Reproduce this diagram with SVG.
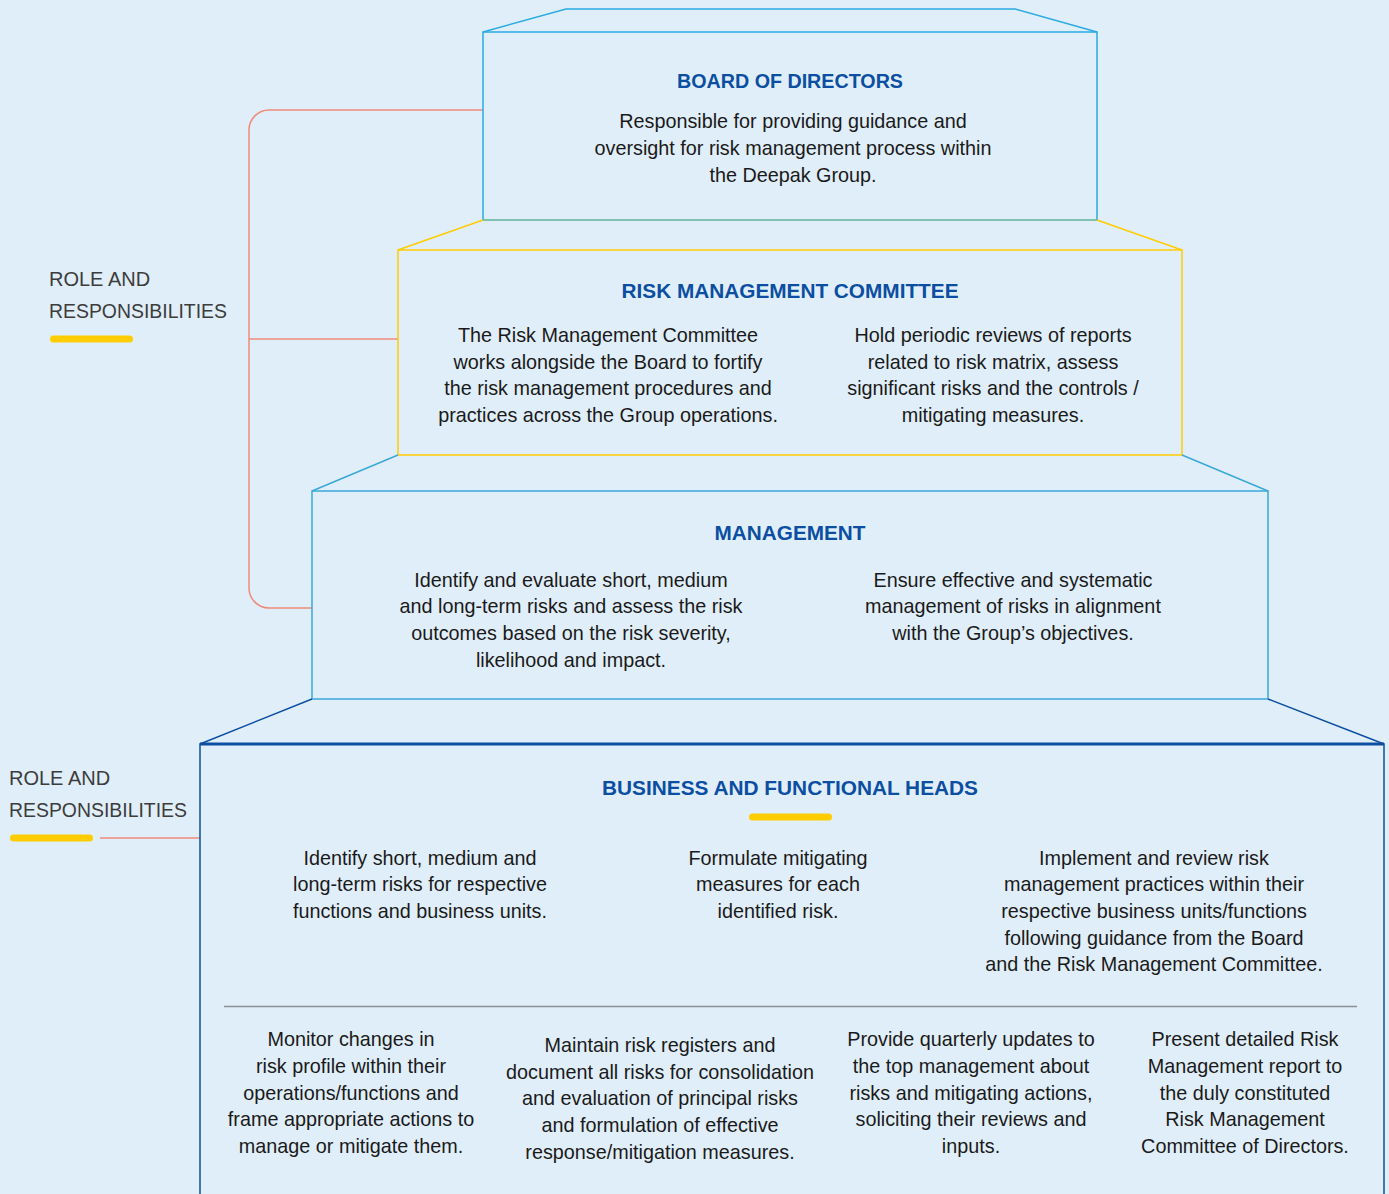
<svg xmlns="http://www.w3.org/2000/svg" width="1389" height="1194" viewBox="0 0 1389 1194">
<style>
.body{font-family:"Liberation Sans",Arial,sans-serif;font-size:19.8px;fill:#1a1a1a;text-anchor:middle}
.title{font-family:"Liberation Sans",Arial,sans-serif;font-size:20px;font-weight:bold;fill:#0B4EA2;text-anchor:middle}
.label{font-family:"Liberation Sans",Arial,sans-serif;font-size:20px;fill:#3c3c3c}
.bar{fill:#FFCC00}
.conn{fill:none;stroke:#F08A78;stroke-width:1.5}
</style>
<rect width="1389" height="1194" fill="#E0EEF9"/>

<g id="connectors">
<path class="conn" d="M483,110 H269 A20,20 0 0 0 249,130 V588 A20,20 0 0 0 269,608 H312"/>
<path class="conn" d="M249,339 H398"/>
<path class="conn" d="M100,838 H200"/>
</g>

<g id="label-top">
<text class="label" x="49" y="286">ROLE AND</text>
<text class="label" x="49" y="318" textLength="178" lengthAdjust="spacingAndGlyphs">RESPONSIBILITIES</text>
<rect class="bar" x="50" y="335.5" width="83" height="7" rx="3.5"/>
</g>

<g id="label-bottom">
<text class="label" x="9" y="785">ROLE AND</text>
<text class="label" x="9" y="817" textLength="178" lengthAdjust="spacingAndGlyphs">RESPONSIBILITIES</text>
<rect class="bar" x="10" y="834.5" width="83" height="7" rx="3.5"/>
</g>

<g id="board">
<path d="M483,32 L566,9 H1015 L1097,32" fill="none" stroke="#29ABE2" stroke-width="1.5"/>
<path d="M483,220 V32 H1097 V220" fill="none" stroke="#29ABE2" stroke-width="1.5"/>
<path d="M483,220 H1097" fill="none" stroke="#5FB39A" stroke-width="1.5"/>
<text class="title" x="790" y="88" textLength="226" lengthAdjust="spacingAndGlyphs">BOARD OF DIRECTORS</text>
<text class="body" x="793" y="128">Responsible for providing guidance and</text>
<text class="body" x="793" y="155">oversight for risk management process within</text>
<text class="body" x="793" y="182">the Deepak Group.</text>
</g>

<g id="rmc">
<path d="M398,250 L483,220 M1097,220 L1182,250" fill="none" stroke="#FFCC00" stroke-width="1.5"/>
<rect x="398" y="250" width="784" height="205" fill="none" stroke="#FFCC00" stroke-width="1.5"/>
<text class="title" x="790" y="298" textLength="337" lengthAdjust="spacingAndGlyphs">RISK MANAGEMENT COMMITTEE</text>
<text class="body" x="608" y="342">The Risk Management Committee</text>
<text class="body" x="608" y="369">works alongside the Board to fortify</text>
<text class="body" x="608" y="395">the risk management procedures and</text>
<text class="body" x="608" y="422">practices across the Group operations.</text>
<text class="body" x="993" y="342">Hold periodic reviews of reports</text>
<text class="body" x="993" y="369">related to risk matrix, assess</text>
<text class="body" x="993" y="395">significant risks and the controls /</text>
<text class="body" x="993" y="422">mitigating measures.</text>
</g>

<g id="management">
<path d="M312,491 L398,455 M1182,455 L1268,491" fill="none" stroke="#3AA8D8" stroke-width="1.5"/>
<rect x="312" y="491" width="956" height="208" fill="none" stroke="#3AA8D8" stroke-width="1.5"/>
<text class="title" x="790" y="540" textLength="151" lengthAdjust="spacingAndGlyphs">MANAGEMENT</text>
<text class="body" x="571" y="587">Identify and evaluate short, medium</text>
<text class="body" x="571" y="613">and long-term risks and assess the risk</text>
<text class="body" x="571" y="640">outcomes based on the risk severity,</text>
<text class="body" x="571" y="667">likelihood and impact.</text>
<text class="body" x="1013" y="587">Ensure effective and systematic</text>
<text class="body" x="1013" y="613">management of risks in alignment</text>
<text class="body" x="1013" y="640">with the Group’s objectives.</text>
</g>

<g id="business-heads">
<path d="M200,744 L312,699 M1268,699 L1384,744" fill="none" stroke="#0B4EA2" stroke-width="1.5"/>
<path d="M200,1200 V744 H1384 V1200" fill="none" stroke="#0B4EA2" stroke-width="1.5"/>
<path d="M200,744 H1384" fill="none" stroke="#0B4EA2" stroke-width="3"/>
<text class="title" x="790" y="795" textLength="376" lengthAdjust="spacingAndGlyphs">BUSINESS AND FUNCTIONAL HEADS</text>
<rect class="bar" x="749" y="813.5" width="83" height="7" rx="3.5"/>
<text class="body" x="420" y="865">Identify short, medium and</text>
<text class="body" x="420" y="891">long-term risks for respective</text>
<text class="body" x="420" y="918">functions and business units.</text>
<text class="body" x="778" y="865">Formulate mitigating</text>
<text class="body" x="778" y="891">measures for each</text>
<text class="body" x="778" y="918">identified risk.</text>
<text class="body" x="1154" y="865">Implement and review risk</text>
<text class="body" x="1154" y="891">management practices within their</text>
<text class="body" x="1154" y="918">respective business units/functions</text>
<text class="body" x="1154" y="945">following guidance from the Board</text>
<text class="body" x="1154" y="971">and the Risk Management Committee.</text>
<line x1="224" y1="1006.5" x2="1357" y2="1006.5" stroke="#8A8F96" stroke-width="1.5"/>
<text class="body" x="351" y="1046">Monitor changes in</text>
<text class="body" x="351" y="1073">risk profile within their</text>
<text class="body" x="351" y="1100">operations/functions and</text>
<text class="body" x="351" y="1126">frame appropriate actions to</text>
<text class="body" x="351" y="1153">manage or mitigate them.</text>
<text class="body" x="660" y="1052">Maintain risk registers and</text>
<text class="body" x="660" y="1079">document all risks for consolidation</text>
<text class="body" x="660" y="1105">and evaluation of principal risks</text>
<text class="body" x="660" y="1132">and formulation of effective</text>
<text class="body" x="660" y="1159">response/mitigation measures.</text>
<text class="body" x="971" y="1046">Provide quarterly updates to</text>
<text class="body" x="971" y="1073">the top management about</text>
<text class="body" x="971" y="1100">risks and mitigating actions,</text>
<text class="body" x="971" y="1126">soliciting their reviews and</text>
<text class="body" x="971" y="1153">inputs.</text>
<text class="body" x="1245" y="1046">Present detailed Risk</text>
<text class="body" x="1245" y="1073">Management report to</text>
<text class="body" x="1245" y="1100">the duly constituted</text>
<text class="body" x="1245" y="1126">Risk Management</text>
<text class="body" x="1245" y="1153">Committee of Directors.</text>
</g>
</svg>
